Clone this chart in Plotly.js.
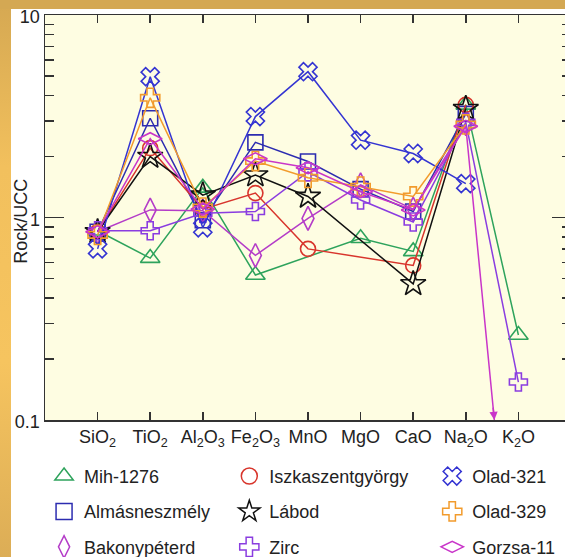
<!DOCTYPE html>
<html><head><meta charset="utf-8">
<script src="https://cdn.plot.ly/plotly-3.0.1.min.js"></script>
<style>
html,body{margin:0;padding:0;width:565px;height:557px;overflow:hidden;}
body{position:relative;background:linear-gradient(to bottom,#d5a852 0%,#f2c05d 30%,#f6c45f 65%,#dcad56 100%);}
#topbar{position:absolute;left:0;top:0;width:565px;height:9px;background:#d4a853;z-index:2;}
#chart{position:absolute;left:11px;top:0;width:570px;height:557px;background:#ffffff;z-index:1;}
</style></head><body><div id="topbar"></div><div id="chart"></div>
<script>
// Categories and tick labels
const categories = ['SiO2','TiO2','Al2O3','Fe2O3','MnO','MgO','CaO','Na2O','K2O'];
const tickLabels = ['SiO<sub>2</sub>','TiO<sub>2</sub>','Al<sub>2</sub>O<sub>3</sub>','Fe<sub>2</sub>O<sub>3</sub>','MnO','MgO','CaO','Na<sub>2</sub>O','K<sub>2</sub>O'];
const yTickVals = [0.1, 1, 10];
const yTickText = ['0.1', '1', '10'];

// Series values (Rock/UCC)
const mih1276          = [0.86, 0.63, 1.40, 0.52, null, 0.79, 0.68, 3.60, 0.263];
const almasneszmely    = [0.85, 3.09, 0.97, 2.35, 1.89, 1.38, 1.07, 3.25, null];
const bakonypeterd     = [0.85, 1.09, 1.08, 0.65, 0.99, 1.45, 1.10, 2.90, null];
const iszkaszentgyorgy = [0.85, 2.20, 1.10, 1.32, 0.70, null, 0.58, 3.60, null];
const labod            = [0.85, 2.00, 1.29, 1.62, 1.27, null, 0.47, 3.45, null];
const zirc             = [0.86, 0.86, 1.05, 1.07, 1.68, 1.22, 0.95, 2.95, 0.154];
const olad321          = [0.70, 4.96, 0.89, 3.15, 5.25, 2.41, 2.07, 1.47, null];
const olad329          = [0.82, 3.90, 1.12, 1.90, 1.57, 1.42, 1.27, 2.88, null];
const gorzsa11         = [0.85, 2.45, 1.10, 1.95, 1.76, 1.34, 1.09, 2.82, 0.006];

const seriesNames = ['Mih-1276','Almásneszmély','Bakonypéterd','Iszkaszentgyörgy','Lábod','Zirc','Olad-321','Olad-329','Gorzsa-11'];
const seriesData  = [mih1276, almasneszmely, bakonypeterd, iszkaszentgyorgy, labod, zirc, olad321, olad329, gorzsa11];
const seriesColors = ['#2ea35c','#2c2cb0','#b43cc8','#d8352c','#111111','#8a3de0','#3434d2','#f29b2c','#c935c9'];
const seriesSymbols = ['triangle-up-open','square-open','diamond-tall-open','circle-open','star-open','cross-open','x-open','cross-open','diamond-wide-open'];
const seriesSizes = [17, 15, 17, 15, 19, 15, 16, 16, 17];
const legendIds = ['legend','legend','legend','legend2','legend2','legend2','legend3','legend3','legend3'];

const FONT = 'Liberation Sans, Arial, Helvetica, sans-serif';
const traces = [];
seriesData.forEach((vals, i) => {
  traces.push({
    x: categories, y: vals, type: 'scatter', mode: 'lines+markers',
    connectgaps: true, showlegend: false, name: seriesNames[i],
    line: {color: seriesColors[i], width: 1.5},
    marker: {symbol: seriesSymbols[i], size: seriesSizes[i], color: seriesColors[i], line: {color: seriesColors[i], width: 1.6}}
  });
});
// legend-only entries (markers only, as in the original key)
seriesData.forEach((vals, i) => {
  traces.push({
    x: [null], y: [null], type: 'scatter', mode: 'markers', name: seriesNames[i],
    legend: legendIds[i], legendgroup: 'g' + i, showlegend: true,
    marker: {symbol: seriesSymbols[i], size: 16, color: seriesColors[i], line: {color: seriesColors[i], width: 1.5}}
  });
});

// Arrow where the Gorzsa-11 K2O value falls below the axis minimum
const logA = Math.log10(gorzsa11[7]), logB = Math.log10(gorzsa11[8]);
const t = (logA + 1) / (logA - logB);
const xCross = 7 + t;
const pxX = 526 / 10, pxDec = 405 / 2;
const ddx = pxX, ddy = (logA - logB) * pxDec, L = Math.hypot(ddx, ddy);

const legendBase = {
  font: {family: FONT, size: 18, color: '#222'}, bgcolor: 'rgba(0,0,0,0)',
  xref: 'container', yref: 'container', yanchor: 'top', xanchor: 'left',
  tracegroupgap: 9, itemsizing: 'trace', orientation: 'v'
};

const layout = {
  width: 570, height: 557,
  margin: {l: 34, r: 10, t: 15, b: 137, autoexpand: false},
  paper_bgcolor: '#ffffff', plot_bgcolor: '#fefde2',
  font: {family: FONT, size: 18, color: '#222'},
  xaxis: {
    type: 'category', range: [-1, 9], tickvals: categories, ticktext: tickLabels,
    showline: true, linecolor: '#333', linewidth: 1.5, mirror: 'ticks',
    ticks: 'inside', ticklen: 8, tickwidth: 1.5, tickcolor: '#333',
    showgrid: false, zeroline: false, tickfont: {size: 18, color: '#222'}, automargin: false
  },
  yaxis: {
    type: 'log', range: [-1, 1], tickvals: yTickVals, ticktext: yTickText,
    showline: true, linecolor: '#333', linewidth: 1.5, mirror: 'ticks',
    ticks: 'inside', ticklen: 19, tickwidth: 1.5, tickcolor: '#333',
    minor: {ticks: 'inside', ticklen: 9, tickwidth: 1.5, tickcolor: '#333', dtick: 'D1', showgrid: false},
    showgrid: false, zeroline: false, tickfont: {size: 18, color: '#222'}, automargin: false,
    ticklabeloverflow: 'allow', ticklabelshift: 2
  },
  showlegend: true,
  legend:  Object.assign({}, legendBase, {x: 0.058, y: 0.178}),
  legend2: Object.assign({}, legendBase, {x: 0.383, y: 0.178}),
  legend3: Object.assign({}, legendBase, {x: 0.739, y: 0.178}),
  annotations: [
    {x: xCross, y: -1, xref: 'x', yref: 'y', text: '', showarrow: true,
     arrowhead: 2, arrowsize: 1.1, arrowwidth: 1.5, arrowcolor: seriesColors[8],
     ax: -14 * ddx / L, ay: -14 * ddy / L, standoff: 0},
    {x: -0.047, y: 0.49, xref: 'paper', yref: 'paper', text: 'Rock/UCC', textangle: -90,
     showarrow: false, font: {family: FONT, size: 18, color: '#222'}, xanchor: 'center', yanchor: 'middle'}
  ]
};

Plotly.newPlot('chart', traces, layout, {staticPlot: true, displayModeBar: false});
</script></body></html>
